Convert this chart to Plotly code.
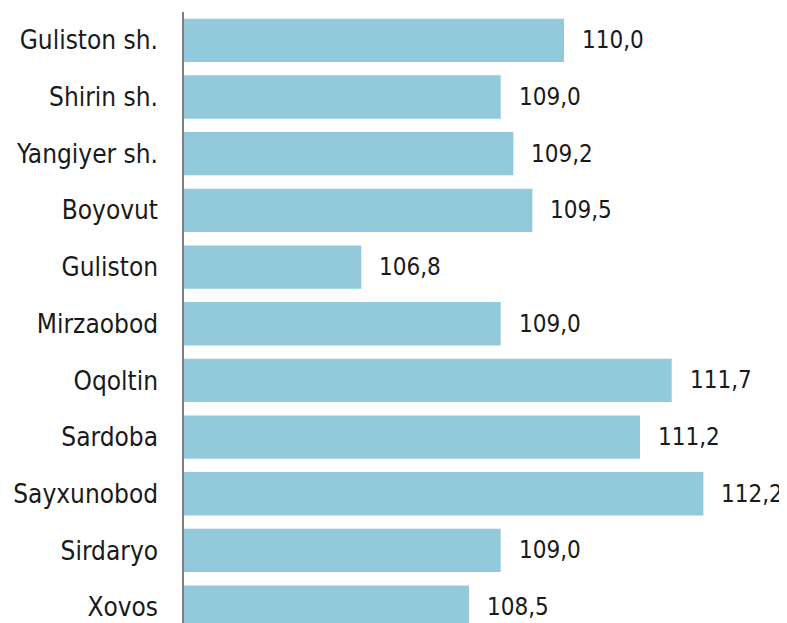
import plotly.graph_objects as go

districts = [
    "Guliston sh.", "Shirin sh.", "Yangiyer sh.", "Boyovut", "Guliston",
    "Mirzaobod", "Oqoltin", "Sardoba", "Sayxunobod", "Sirdaryo", "Xovos",
]
values = [110.0, 109.0, 109.2, 109.5, 106.8, 109.0, 111.7, 111.2, 112.2, 109.0, 108.5]
labels = ["{:.1f}".format(v).replace(".", ",") for v in values]

FONT = "Liberation Sans Narrow, DejaVu Sans Condensed, Roboto, sans-serif"
AXIS_START = 104

fig = go.Figure()
fig.add_trace(
    go.Bar(
        x=[v - AXIS_START for v in values],
        y=districts,
        orientation="h",
        base=AXIS_START,
        marker_color="#92CADB",
        marker_line_width=0,
        hoverinfo="skip",
    )
)

for d, v, t in zip(districts, values, labels):
    fig.add_annotation(
        x=v, y=d, text=t, showarrow=False,
        xanchor="left", yanchor="middle", xshift=16, yshift=0,
        font=dict(family=FONT, size=24, color="#1a1a1a"),
    )

# page body has an 8px margin, so margins are 8px smaller than on screen
fig.update_layout(
    width=779,
    height=615,
    margin=dict(l=176, r=0, t=4, b=0, autoexpand=False),
    plot_bgcolor="white",
    paper_bgcolor="white",
    bargap=0.236,
    showlegend=False,
    font=dict(family=FONT, size=26, color="#1a1a1a"),
)
fig.update_xaxes(range=[AXIS_START, 113.52], visible=False, showgrid=False,
                 automargin=False)
fig.update_yaxes(
    type="category",
    range=[10.28, -0.5],
    showgrid=False,
    showline=True,
    linecolor="#7f7f7f",
    linewidth=1.5,
    ticks="",
    ticklabelstandoff=19,
    automargin=False,
)

fig.write_html("out.html")
